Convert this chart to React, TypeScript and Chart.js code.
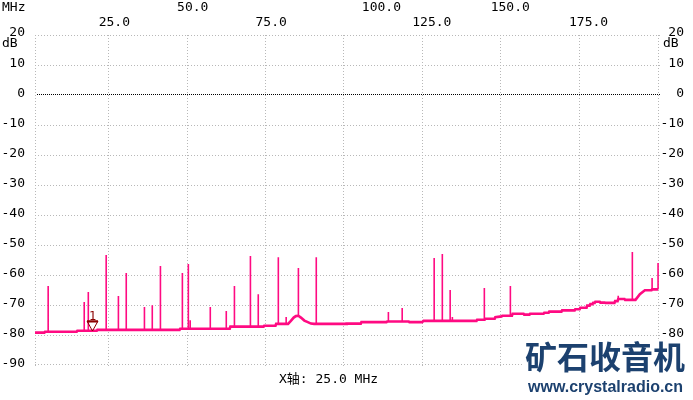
import React, { useEffect, useRef } from 'react';
import { Chart, registerables } from 'chart.js';

Chart.register(...registerables);

// ---- data ----
const X_MIN = 1.5;
const X_MAX = 200.5;
const Y_MIN = -90;
const Y_MAX = 20;

const baseFreq = [
  1.5, 4.5, 4.7, 14.8, 15.0, 21.2, 21.4, 47.6, 47.8, 63.6, 63.8, 74.4, 74.6, 78.2, 78.4, 82.2,
  83.1, 84.0, 84.7, 85.5, 86.3, 87.4, 88.5, 89.5, 90.5, 100.7, 100.9, 105.4, 105.6, 113.6, 113.8,
  120.7, 120.9, 125.0, 125.4, 142.3, 142.5, 144.9, 145.1, 148.1, 148.3, 150.3, 150.5, 153.6, 153.8,
  157.3, 157.5, 159.2, 159.4, 163.7, 163.9, 165.3, 165.5, 169.4, 169.6, 173.6, 173.8, 175.2, 175.4,
  177.4, 177.6, 178.4, 178.6, 179.3, 179.5, 180.0, 180.2, 181.6, 181.8, 183.2, 183.4, 186.3, 186.5,
  187.3, 187.5, 189.5, 189.7, 193.0, 194.4, 196.0, 198.1, 198.3, 200.2,
];
const baseLevel = [
  -79.2, -79.2, -78.9, -78.9, -78.6, -78.6, -78.3, -78.3, -77.9, -77.9, -77.2, -77.2, -76.9, -76.9, -76.3, -76.3,
  -75.3, -74.2, -73.7, -73.6, -74.2, -75.2, -75.7, -76.2, -76.3, -76.3, -76.2, -76.2, -75.7, -75.7, -75.5,
  -75.5, -75.7, -75.7, -75.3, -75.3, -74.9, -74.9, -74.6, -74.6, -74.1, -73.8, -73.6, -73.6, -72.9,
  -72.9, -73.2, -73.2, -72.9, -72.9, -72.6, -72.6, -72.2, -72.2, -71.8, -71.8, -71.4, -71.4, -70.9,
  -70.9, -70.2, -70.2, -69.7, -69.7, -69.3, -69.3, -68.9, -68.9, -69.2, -69.2, -69.3, -69.3, -68.7,
  -68.7, -68.0, -68.0, -68.3, -68.3, -66.4, -65.1, -65.1, -64.8, -64.8,
];

const spikeFreq = [
  5.7, 17.2, 18.5, 24.2, 28.1, 30.6, 36.4, 38.9, 41.5, 48.5, 50.4, 51.0, 57.4, 62.5, 65.1, 70.2, 72.7,
  79.1, 81.6, 85.5, 91.2, 114.2, 118.6, 128.8, 131.4, 133.9, 134.6, 144.8, 153.1, 187.5, 192.0, 198.3, 200.2,
];
const spikePeak = [
  -63.7, -69.0, -65.7, -53.3, -67.0, -59.3, -70.7, -70.1, -57.0, -59.3, -56.3, -75.1, -70.7, -72.0, -63.7, -53.7, -66.4,
  -54.1, -74.0, -57.7, -54.1, -72.3, -71.0, -54.3, -53.0, -65.0, -74.0, -64.3, -63.7, -66.9, -52.3, -61.0, -56.0,
];
const spikeFloor = [
  -79.0, -78.6, -78.6, -78.3, -78.3, -78.3, -78.3, -78.3, -78.3, -77.9, -77.9, -77.9, -77.9, -77.9, -77.2, -77.2, -77.2,
  -76.6, -76.3, -73.6, -76.3, -75.5, -75.5, -75.3, -75.3, -75.3, -75.3, -74.9, -73.6, -68.7, -68.3, -65.0, -64.8,
];

const xGridValues = [25, 50, 75, 100, 125, 150, 175];
const xTopRowLabels = ['50.0', '100.0', '150.0'];
const xTopRowValues = [50, 100, 150];
const xSecondRowLabels = ['25.0', '75.0', '125.0', '175.0'];
const xSecondRowValues = [25, 75, 125, 175];
const yTickValues = [20, 10, 0, -10, -20, -30, -40, -50, -60, -70, -80, -90];
const yTickLabels = ['20', '10', '0', '-10', '-20', '-30', '-40', '-50', '-60', '-70', '-80', '-90'];

const markerFreq = 19.6;
const markerLevel = -78.6;
const markerLabel = '1';

const xUnit = 'MHz';
const yUnit = 'dB';
const bottomTitle = 'X轴: 25.0 MHz';
const logoText = '矿石收音机';
const logoUrl = 'www.crystalradio.cn';

const TRACE = '#ff0a82';
const MONO = '13px "DejaVu Sans Mono", "Noto Sans CJK SC", monospace';

const decoPlugin = {
  id: 'deco',
  beforeDatasetsDraw(chart: any) {
    const { ctx, chartArea: a, scales } = chart;
    const x = scales.x;
    const y = scales.y;
    ctx.save();
    const vx = [X_MIN, ...xGridValues, X_MAX];
    for (const v of vx) {
      let px = Math.floor(x.getPixelForValue(v));
      if (px >= a.right) px = Math.ceil(a.right) - 1;
      ctx.fillStyle = '#b8b8b8';
      for (let py = Math.round(a.top); py <= a.bottom; py += 3) ctx.fillRect(px, py, 1, 1);
    }
    for (const v of yTickValues) {
      let py = Math.floor(y.getPixelForValue(v));
      if (py >= a.bottom) py = Math.ceil(a.bottom) - 1;
      if (v === 0) {
        ctx.fillStyle = '#000000';
        for (let px = Math.round(a.left) + 2; px <= a.right; px += 2) ctx.fillRect(px, py, 1, 1);
      } else {
        ctx.fillStyle = '#b8b8b8';
        for (let px = Math.round(a.left); px <= a.right; px += 3) ctx.fillRect(px, py, 1, 1);
      }
    }
    ctx.restore();
  },
  afterDraw(chart: any) {
    const { ctx, scales } = chart;
    const x = scales.x;
    const y = scales.y;
    ctx.save();
    ctx.fillStyle = '#000';
    ctx.font = MONO;
    ctx.textBaseline = 'middle';
    ctx.textAlign = 'left';
    // top unit and labels
    ctx.fillText(xUnit, 2, 8);
    xTopRowValues.forEach((v, i) => {
      const off = v === 100 ? 18 : -10;
      ctx.fillText(xTopRowLabels[i], x.getPixelForValue(v) + off, 8);
    });
    xSecondRowValues.forEach((v, i) => {
      ctx.fillText(xSecondRowLabels[i], x.getPixelForValue(v) - 10, 23);
    });
    // y labels both sides
    ctx.textAlign = 'right';
    yTickValues.forEach((v, i) => {
      const py = y.getPixelForValue(v) - (v === Y_MAX ? 2 : 1);
      ctx.fillText(yTickLabels[i], 25, py);
      ctx.fillText(yTickLabels[i], 684, py);
    });
    ctx.textAlign = 'left';
    ctx.fillText(yUnit, 2, 44);
    ctx.fillText(yUnit, 663, 44);
    // bottom title
    ctx.fillText(bottomTitle, 279, 380);

    // marker
    const mx = Math.round(x.getPixelForValue(markerFreq)) + 0.5;
    const my = Math.round(y.getPixelForValue(markerLevel));
    ctx.strokeStyle = '#8b0000';
    ctx.fillStyle = '#8b0000';
    ctx.lineWidth = 1;
    ctx.beginPath();
    ctx.moveTo(mx - 5.5, my - 10);
    ctx.lineTo(mx + 5.5, my - 10);
    ctx.lineTo(mx, my);
    ctx.closePath();
    ctx.stroke();
    ctx.fillRect(mx - 5.5, my - 10.5, 11, 2);
    ctx.textAlign = 'center';
    ctx.textBaseline = 'alphabetic';
    ctx.font = '12px "DejaVu Sans Mono", monospace';
    ctx.fillText(markerLabel, mx, my - 11);

    // watermark (opaque overlay)
    ctx.fillStyle = '#ffffff';
    ctx.fillRect(522, 339, 171, 61);
    ctx.fillStyle = '#1c416f';
    ctx.textAlign = 'left';
    ctx.textBaseline = 'middle';
    ctx.font = 'bold 32px "Noto Sans CJK SC"';
    ctx.fillText(logoText, 525, 357);
    ctx.font = 'bold 16px "Liberation Sans", Arial, sans-serif';
    ctx.fillText(logoUrl, 528, 388);
    ctx.restore();
  },
};

export default function App() {
  const ref = useRef<HTMLCanvasElement | null>(null);
  useEffect(() => {
    if (!ref.current) return;
    const baseData = baseFreq.map((f, i) => ({ x: f, y: baseLevel[i] }));
    const spikeData: any[] = [];
    spikeFreq.forEach((f, i) => {
      spikeData.push({ x: f, y: spikeFloor[i] });
      spikeData.push({ x: f, y: spikePeak[i] });
      spikeData.push({ x: f, y: null });
    });
    const chart = new Chart(ref.current, {
      type: 'line',
      data: {
        datasets: [
          {
            data: spikeData,
            borderColor: TRACE,
            borderWidth: 1.6,
            pointRadius: 0,
            spanGaps: false,
            tension: 0,
          },
          {
            data: baseData,
            borderColor: TRACE,
            borderWidth: 2.6,
            pointRadius: 0,
            tension: 0,
          },
        ],
      },
      options: {
        animation: false,
        responsive: false,
        devicePixelRatio: 1,
        parsing: false as any,
        layout: { padding: { left: 35, top: 35, right: 34, bottom: 35 } },
        plugins: { legend: { display: false }, tooltip: { enabled: false } },
        events: [],
        scales: {
          x: { type: 'linear', min: X_MIN, max: X_MAX, display: false },
          y: { type: 'linear', min: Y_MIN, max: Y_MAX, display: false },
        },
      },
      plugins: [decoPlugin],
    });
    return () => chart.destroy();
  }, []);
  return (
    <div style={{ position: 'fixed', left: 0, top: 0, width: 693, height: 400, background: '#fff' }}>
      <canvas ref={ref} width={693} height={400} style={{ display: 'block' }} />
    </div>
  );
}
